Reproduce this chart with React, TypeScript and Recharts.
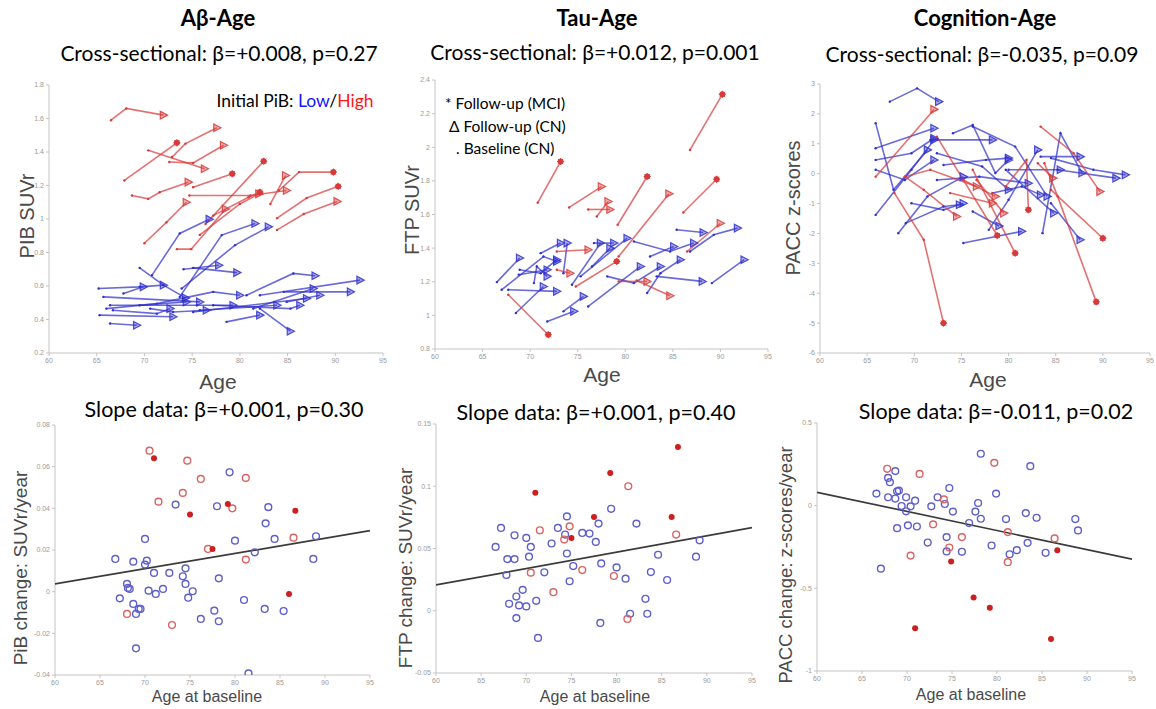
import React from "react";
import { LineChart, Line, XAxis, YAxis, ScatterChart, Scatter } from "recharts";

type Pt = [number, number];
type Traj = { end: "arrow" | "star"; pts: Pt[] };

// ---- longitudinal trajectories (age, value); end = marker of follow-up visit ----
const abHigh: Traj[] = [
  { end: "arrow", pts: [[66.5, 1.59], [68.1, 1.66], [72.0, 1.62]] },
  { end: "star", pts: [[67.9, 1.23], [73.4, 1.455]] },
  { end: "arrow", pts: [[68.7, 1.14], [70.4, 1.12], [71.6, 1.16], [74.6, 1.22]] },
  { end: "arrow", pts: [[70.4, 1.41], [76.3, 1.3]] },
  { end: "arrow", pts: [[72.9, 1.37], [74.3, 1.45], [77.6, 1.545]] },
  { end: "arrow", pts: [[72.6, 1.34], [75.1, 1.335], [78.3, 1.44]] },
  { end: "star", pts: [[75.1, 1.19], [79.2, 1.27]] },
  { end: "arrow", pts: [[74.7, 1.14], [81.1, 1.14], [84.9, 1.17]] },
  { end: "arrow", pts: [[70.0, 0.855], [72.3, 0.98], [74.4, 1.1]] },
  { end: "arrow", pts: [[73.4, 0.82], [74.9, 0.82], [78.5, 1.06]] },
  { end: "star", pts: [[76.4, 0.97], [82.5, 1.345]] },
  { end: "star", pts: [[77.2, 1.02], [80.9, 1.13], [82.1, 1.16]] },
  { end: "arrow", pts: [[75.8, 0.905], [80.0, 1.09], [82.0, 1.15]] },
  { end: "arrow", pts: [[83.2, 1.09], [84.8, 1.26]] },
  { end: "star", pts: [[84.1, 1.17], [86.2, 1.28], [89.8, 1.28]] },
  { end: "star", pts: [[83.9, 1.005], [87.0, 1.125], [90.3, 1.195]] },
  { end: "arrow", pts: [[83.9, 0.935], [86.7, 1.03], [90.2, 1.105]] },
];

const abLow: Traj[] = [
  { end: "arrow", pts: [[70.8, 0.665], [73.7, 0.914], [76.8, 0.999]] },
  { end: "arrow", pts: [[73.7, 0.535], [78.1, 0.904], [81.6, 0.973]] },
  { end: "arrow", pts: [[73.9, 0.585], [79.5, 0.844], [83.0, 0.953]] },
  { end: "arrow", pts: [[69.5, 0.708], [72.0, 0.605], [74.3, 0.529]] },
  { end: "arrow", pts: [[74.1, 0.7], [77.8, 0.724]] },
  { end: "arrow", pts: [[75.1, 0.708], [79.7, 0.68]] },
  { end: "arrow", pts: [[65.2, 0.585], [69.5, 0.595], [72.0, 0.605]] },
  { end: "arrow", pts: [[80.7, 0.545], [85.6, 0.675], [87.9, 0.661]] },
  { end: "arrow", pts: [[82.1, 0.545], [92.6, 0.635]] },
  { end: "arrow", pts: [[84.6, 0.565], [91.6, 0.565]] },
  { end: "arrow", pts: [[82.1, 0.465], [85.3, 0.33]] },
  { end: "arrow", pts: [[66.4, 0.376], [69.2, 0.366]] },
  { end: "arrow", pts: [[66.4, 0.485], [75.5, 0.485], [79.3, 0.485]] },
  { end: "arrow", pts: [[81.4, 0.465], [87.7, 0.585]] },
  { end: "arrow", pts: [[78.6, 0.386], [82.1, 0.426]] },
  { end: "arrow", pts: [[65.3, 0.426], [73.0, 0.416]] },
  { end: "arrow", pts: [[65.7, 0.535], [75.8, 0.505]] },
  { end: "arrow", pts: [[75.1, 0.445], [87.0, 0.525]] },
  { end: "arrow", pts: [[77.2, 0.485], [85.3, 0.465], [86.3, 0.485]] },
  { end: "arrow", pts: [[66.0, 0.465], [71.3, 0.495], [77.2, 0.565], [80.0, 0.545]] },
  { end: "arrow", pts: [[67.8, 0.555], [69.9, 0.595]] },
  { end: "arrow", pts: [[70.6, 0.465], [73.0, 0.445], [76.5, 0.455]] },
  { end: "arrow", pts: [[75.8, 0.455], [83.9, 0.485]] },
  { end: "arrow", pts: [[66.7, 0.455], [71.3, 0.435], [72.7, 0.465]] },
  { end: "arrow", pts: [[69.5, 0.485], [74.4, 0.505]] },
  { end: "arrow", pts: [[84.9, 0.505], [88.4, 0.545]] },
];

const tauHigh: Traj[] = [
  { end: "star", pts: [[70.8, 1.67], [73.2, 1.915]] },
  { end: "star", pts: [[86.8, 1.984], [90.2, 2.315]] },
  { end: "arrow", pts: [[74.1, 1.642], [77.5, 1.766]] },
  { end: "arrow", pts: [[76.1, 1.63], [78.4, 1.63]] },
  { end: "arrow", pts: [[77.0, 1.588], [78.2, 1.677]] },
  { end: "star", pts: [[79.2, 1.539], [82.3, 1.826]] },
  { end: "star", pts: [[86.1, 1.612], [89.6, 1.81]] },
  { end: "arrow", pts: [[72.8, 1.38], [76.1, 1.39]] },
  { end: "arrow", pts: [[79.3, 1.35], [84.6, 1.723]] },
  { end: "arrow", pts: [[86.5, 1.38], [90.0, 1.548]] },
  { end: "star", pts: [[67.7, 1.123], [71.9, 0.885]] },
  { end: "star", pts: [[74.8, 1.172], [79.1, 1.321]] },
  { end: "arrow", pts: [[79.3, 1.202], [82.3, 1.202]] },
  { end: "arrow", pts: [[81.2, 1.208], [84.7, 1.117]] },
  { end: "arrow", pts: [[72.8, 1.271], [74.2, 1.251]] },
];

const tauLow: Traj[] = [
  { end: "arrow", pts: [[66.5, 1.198], [68.9, 1.341]] },
  { end: "arrow", pts: [[67.0, 1.152], [71.4, 1.35], [72.8, 1.321]] },
  { end: "arrow", pts: [[67.7, 1.152], [72.8, 1.143]] },
  { end: "arrow", pts: [[68.5, 1.014], [71.4, 1.172]] },
  { end: "arrow", pts: [[71.8, 0.964], [74.6, 1.024]] },
  { end: "arrow", pts: [[73.5, 1.024], [75.6, 1.113]] },
  { end: "arrow", pts: [[76.1, 1.053], [81.6, 1.291]] },
  { end: "arrow", pts: [[74.4, 1.182], [77.4, 1.43]] },
  { end: "arrow", pts: [[75.3, 1.232], [80.2, 1.459]] },
  { end: "arrow", pts: [[76.5, 1.291], [78.4, 1.4]] },
  { end: "arrow", pts: [[73.5, 1.251], [73.9, 1.43]] },
  { end: "arrow", pts: [[68.9, 1.271], [71.1, 1.251], [72.8, 1.331]] },
  { end: "arrow", pts: [[70.4, 1.192], [70.7, 1.291], [71.8, 1.232]] },
  { end: "arrow", pts: [[78.1, 1.232], [80.9, 1.192], [83.7, 1.291]] },
  { end: "arrow", pts: [[82.3, 1.133], [83.7, 1.251], [85.8, 1.331]] },
  { end: "arrow", pts: [[83.3, 1.232], [88.1, 1.202]] },
  { end: "arrow", pts: [[80.9, 1.44], [84.7, 1.38], [87.2, 1.43]] },
  { end: "arrow", pts: [[85.4, 1.509], [88.2, 1.493]] },
  { end: "arrow", pts: [[86.8, 1.38], [89.3, 1.479], [91.8, 1.519]] },
  { end: "arrow", pts: [[89.1, 1.192], [92.5, 1.331]] },
  { end: "arrow", pts: [[76.7, 1.43], [78.8, 1.43]] },
  { end: "arrow", pts: [[71.1, 1.37], [73.2, 1.43]] },
  { end: "arrow", pts: [[82.6, 1.35], [85.1, 1.41]] },
  { end: "arrow", pts: [[68.8, 1.242], [71.8, 1.271]] },
];

const cogHigh: Traj[] = [
  { end: "arrow", pts: [[65.9, -0.1], [72.1, 2.15]] },
  { end: "star", pts: [[67.9, -0.65], [71.0, -2.21], [73.1, -5.0]] },
  { end: "star", pts: [[72.4, 1.24], [75.2, -0.21], [78.8, -2.07]] },
  { end: "star", pts: [[76.2, 0.13], [80.7, -2.66]] },
  { end: "arrow", pts: [[69.0, -0.1], [71.0, -0.54], [74.5, -1.43]] },
  { end: "arrow", pts: [[83.4, 1.575], [86.9, 0.684], [89.7, -0.6]] },
  { end: "star", pts: [[83.8, 0.35], [85.2, -0.76], [89.3, -4.29]] },
  { end: "star", pts: [[84.5, -0.54], [90.0, -2.16]] },
  { end: "arrow", pts: [[76.6, -0.21], [79.5, -1.32]] },
  { end: "star", pts: [[79.7, -0.43], [81.9, 0.46], [82.1, -1.21]] },
  { end: "arrow", pts: [[83.1, 0.35], [84.7, -0.15]] },
  { end: "arrow", pts: [[69.0, -0.1], [71.7, 0.13], [76.6, -0.43]] },
  { end: "arrow", pts: [[75.2, -0.21], [78.6, -0.76]] },
  { end: "arrow", pts: [[73.8, -0.65], [78.3, -0.99]] },
];

const cogLow: Traj[] = [
  { end: "arrow", pts: [[67.4, 2.41], [70.3, 2.855], [72.6, 2.41]] },
  { end: "arrow", pts: [[65.9, 1.69], [67.8, -0.54], [71.4, 0.795]] },
  { end: "arrow", pts: [[65.9, 0.85], [72.1, 1.52]] },
  { end: "arrow", pts: [[65.9, 0.46], [69.7, 0.684], [72.1, 1.185]] },
  { end: "arrow", pts: [[65.9, -1.38], [69.7, 0.13], [72.1, 1.13]] },
  { end: "arrow", pts: [[68.3, -1.99], [71.4, -0.76], [75.2, -0.1]] },
  { end: "arrow", pts: [[69.1, -1.655], [73.1, -1.1], [74.8, -1.04]] },
  { end: "arrow", pts: [[71.7, 1.13], [78.3, 1.13]] },
  { end: "arrow", pts: [[74.1, 1.35], [76.2, 1.63], [78.6, 0.02], [80.0, 0.46]] },
  { end: "arrow", pts: [[75.2, -2.32], [81.4, -1.93]] },
  { end: "arrow", pts: [[76.2, -1.265], [79.0, -1.75]] },
  { end: "arrow", pts: [[77.9, -1.88], [80.0, -0.875], [83.1, 0.795]] },
  { end: "arrow", pts: [[83.6, -1.99], [85.5, 1.35], [87.8, 0.02]] },
  { end: "arrow", pts: [[84.5, 0.52], [89.0, 0.13], [92.4, -0.04]] },
  { end: "arrow", pts: [[85.2, 0.13], [91.4, -0.15]] },
  { end: "arrow", pts: [[83.4, 0.57], [87.6, 0.57]] },
  { end: "arrow", pts: [[84.5, -0.99], [87.6, -2.21]] },
  { end: "arrow", pts: [[80.0, 0.13], [85.5, 0.13]] },
  { end: "arrow", pts: [[73.1, 0.29], [77.6, 0.46], [80.0, 0.52]] },
  { end: "arrow", pts: [[72.4, -0.21], [76.9, -0.1], [82.1, -0.32]] },
  { end: "arrow", pts: [[76.2, 1.575], [80.7, 0.906], [84.1, -0.76]] },
  { end: "arrow", pts: [[79.7, 0.13], [84.8, -1.32]] },
  { end: "arrow", pts: [[65.9, 0.13], [69.0, -0.21], [72.1, 0.46]] },
  { end: "arrow", pts: [[69.7, -0.99], [73.1, -1.21], [75.2, -0.99]] },
  { end: "arrow", pts: [[72.4, 0.684], [77.2, 0.24], [80.0, -0.54]] },
  { end: "arrow", pts: [[78.3, -0.65], [81.4, -0.43], [83.4, -0.71]] },
];

// ---- slope data (age at baseline, change per year) ----
const pibSlopeLow: Pt[] = [
  [79.4, 0.0573], [73.4, 0.0418], [78.0, 0.041], [83.7, 0.0406], [83.4, 0.0328], [70.0, 0.0253],
  [80.0, 0.0245], [84.4, 0.0253], [89.0, 0.0266], [82.2, 0.0189], [88.7, 0.0157], [66.7, 0.0157],
  [68.7, 0.0144], [70.2, 0.0149], [70.0, 0.013], [71.0, 0.009], [72.7, 0.009], [74.5, 0.0112],
  [74.2, 0.0074], [74.5, 0.0037], [78.2, 0.0064], [68.0, 0.0037], [68.1, 0.0018], [68.3, 0.0013],
  [67.2, -0.0032], [70.4, 0.0005], [71.2, -0.0011], [72.0, 0.0013], [75.3, 0.0002], [74.8, -0.0029],
  [68.7, -0.0059], [69.0, -0.0107], [69.3, -0.0083], [69.5, -0.0083], [77.7, -0.0091], [76.2, -0.0131],
  [78.2, -0.0142], [81.0, -0.004], [83.3, -0.0083], [85.4, -0.0093], [69.0, -0.0272], [81.5, -0.0392],
];
const pibSlopeHigh: Pt[] = [
  [70.5, 0.0677], [74.7, 0.0629], [76.2, 0.0541], [81.2, 0.0546], [74.2, 0.0474], [71.5, 0.0432],
  [79.7, 0.04], [77.0, 0.0205], [81.2, 0.0154], [86.5, 0.0259], [68.0, -0.0107], [73.0, -0.016],
];
const pibSlopeMci: Pt[] = [
  [71.0, 0.064], [75.0, 0.0371], [79.2, 0.0421], [86.7, 0.0389], [77.5, 0.0205], [86.0, -0.0011],
];
const pibFit: Pt[] = [[60, 0.0037], [95, 0.0293]];

const ftpSlopeLow: Pt[] = [
  [67.2, 0.0665], [68.7, 0.0606], [70.0, 0.0585], [70.5, 0.0513], [66.6, 0.0513], [67.9, 0.0415],
  [68.7, 0.0415], [70.3, 0.0434], [67.8, 0.0287], [72.0, 0.0309], [72.8, 0.054], [73.5, 0.0665],
  [74.5, 0.0758], [74.3, 0.0612], [74.5, 0.046], [75.2, 0.0359], [74.8, 0.0237], [76.2, 0.0625],
  [77.0, 0.062], [78.0, 0.07], [77.7, 0.0553], [78.3, 0.038], [80.0, 0.0348], [79.4, 0.0819],
  [82.2, 0.07], [81.0, 0.0258], [83.8, 0.0311], [84.6, 0.045], [85.6, 0.0247], [88.8, 0.0434],
  [89.2, 0.0566], [69.6, 0.0168], [68.9, 0.0114], [68.1, 0.0056], [69.2, 0.0043], [70.0, 0.0035],
  [71.1, 0.008], [68.9, -0.0059], [71.3, -0.0218], [78.2, -0.0098], [81.5, -0.0024], [83.2, 0.0096],
  [83.4, -0.0024],
];
const ftpSlopeHigh: Pt[] = [
  [81.3, 0.1], [71.5, 0.0646], [74.8, 0.0678], [74.2, 0.0572], [86.6, 0.0612], [70.5, 0.0306],
  [76.2, 0.0327], [79.7, 0.0279], [73.0, 0.0149], [81.2, -0.0066],
];
const ftpSlopeMci: Pt[] = [
  [71.0, 0.0947], [79.3, 0.1106], [86.8, 0.1316], [77.5, 0.0753], [86.1, 0.0753], [75.0, 0.0585],
];
const ftpFit: Pt[] = [[60, 0.0207], [95, 0.0668]];

const paccSlopeLow: Pt[] = [
  [78.2, 0.314], [83.7, 0.239], [68.7, 0.209], [67.9, 0.168], [68.1, 0.142], [66.6, 0.073],
  [68.9, 0.087], [69.1, 0.091], [67.9, 0.051], [68.7, 0.043], [69.9, 0.051], [70.9, 0.03],
  [69.4, -0.002], [70.4, -0.004], [69.9, -0.034], [72.7, -0.004], [73.4, 0.051], [74.2, 0.01],
  [74.7, 0.107], [75.1, -0.036], [77.9, 0.016], [77.6, -0.036], [78.2, -0.079], [79.9, 0.073],
  [76.9, -0.105], [81.0, -0.081], [83.2, -0.045], [84.4, -0.073], [88.7, -0.081], [89.0, -0.15],
  [68.9, -0.136], [70.1, -0.119], [71.1, -0.126], [72.3, -0.223], [74.4, -0.19], [74.4, -0.277],
  [76.1, -0.279], [79.4, -0.241], [81.4, -0.294], [82.2, -0.269], [83.4, -0.225], [85.4, -0.285],
  [67.1, -0.381],
];
const paccSlopeHigh: Pt[] = [
  [67.8, 0.223], [71.4, 0.192], [79.7, 0.259], [74.1, 0.038], [72.9, -0.113], [76.1, -0.19],
  [81.2, -0.16], [86.4, -0.198], [70.4, -0.302], [74.7, -0.253], [81.2, -0.342],
];
const paccSlopeMci: Pt[] = [
  [74.9, -0.338], [86.7, -0.269], [77.4, -0.555], [79.2, -0.617], [70.9, -0.741], [86.0, -0.806],
];
const paccFit: Pt[] = [[60, 0.081], [95, -0.324]];

// ---- ticks ----
const ageTicks = [60, 65, 70, 75, 80, 85, 90, 95];
const pibTicks = [0.2, 0.4, 0.6, 0.8, 1, 1.2, 1.4, 1.6, 1.8];
const ftpTicks = [0.8, 1, 1.2, 1.4, 1.6, 1.8, 2, 2.2, 2.4];
const paccTicks = [-6, -5, -4, -3, -2, -1, 0, 1, 2, 3];
const pibSlopeTicks = [-0.04, -0.02, 0, 0.02, 0.04, 0.06, 0.08];
const ftpSlopeTicks = [-0.05, 0, 0.05, 0.1, 0.15];
const paccSlopeTicks = [-1, -0.5, 0, 0.5];

const BLUE = "#3030cc";
const RED = "#d83a3a";
const RING_BLUE = "#5f5fcc";
const RING_RED = "#d86464";
const DOT_RED = "#cc1f1f";
const AXIS = "#c4c4c4";
const TICK_TXT = { fontSize: 7, fill: "#9a9a9a", fontFamily: "'Liberation Sans', Arial, sans-serif" };
const TITLE_FONT = "Lato, 'Open Sans', sans-serif";
const LABEL_FONT = "'Liberation Sans', Arial, sans-serif";

const rows = (pts: Pt[]) => pts.map(([age, v]) => ({ age, v }));
const fmt = (v: number) => String(+v.toFixed(2));

const endDot = (color: string, n: number, end: string) => (p: any) => {
  const { cx, cy, index } = p;
  if (cx == null || cy == null) return <g key={`d${index}`} />;
  if (index < n - 1) return <circle key={`d${index}`} cx={cx} cy={cy} r={1.2} fill={color} />;
  if (end === "star") {
    return (
      <g key={`d${index}`} stroke={color} strokeWidth={1}>
        <circle cx={cx} cy={cy} r={2.6} fill={color} />
        <path d={`M${cx - 3.5},${cy} H${cx + 3.5} M${cx},${cy - 3.5} V${cy + 3.5} M${cx - 2.5},${cy - 2.5} L${cx + 2.5},${cy + 2.5} M${cx - 2.5},${cy + 2.5} L${cx + 2.5},${cy - 2.5}`} />
      </g>
    );
  }
  return (
    <polygon
      key={`d${index}`}
      points={`${cx + 4},${cy} ${cx - 3.2},${cy - 3.8} ${cx - 3.2},${cy + 3.8}`}
      fill={color}
      fillOpacity={0.4}
      stroke={color}
      strokeOpacity={0.85}
      strokeWidth={1.2}
    />
  );
};

type PanelBox = { left: number; top: number; width: number; height: number; yw: number; xh: number; mr: number };

function TrajPanel({ box, yDomain, yTicks, low, high }: { box: PanelBox; yDomain: number[]; yTicks: number[]; low: Traj[]; high: Traj[] }) {
  const series = [
    ...low.map((t) => ({ t, color: BLUE })),
    ...high.map((t) => ({ t, color: RED })),
  ];
  return (
    <div style={{ position: "absolute", left: box.left, top: box.top }}>
      <LineChart width={box.width} height={box.height} margin={{ top: 10, right: box.mr, left: 0, bottom: 0 }}>
        <XAxis xAxisId="b" type="number" dataKey="age" domain={[60, 95]} ticks={ageTicks} allowDataOverflow
          height={box.xh} tick={TICK_TXT} tickSize={3} stroke={AXIS} />
        <XAxis xAxisId="t" orientation="top" type="number" dataKey="age" domain={[60, 95]} ticks={ageTicks}
          height={0} tick={false} stroke={AXIS} />
        <YAxis yAxisId="l" type="number" domain={yDomain} ticks={yTicks} allowDataOverflow width={box.yw}
          tick={TICK_TXT} tickSize={3} stroke={AXIS} tickFormatter={fmt} />
        <YAxis yAxisId="r" orientation="right" type="number" domain={yDomain} ticks={yTicks} width={0}
          tick={false} stroke={AXIS} />
        {series.map(({ t, color }, i) => (
          <Line
            key={i}
            xAxisId="b"
            yAxisId="l"
            data={rows(t.pts)}
            dataKey="v"
            type="linear"
            stroke={color}
            strokeOpacity={0.72}
            strokeWidth={1.6}
            dot={endDot(color, t.pts.length, t.end)}
            activeDot={false}
            isAnimationActive={false}
          />
        ))}
      </LineChart>
    </div>
  );
}

const ring = (color: string) => (p: any) => (
  <circle cx={p.cx} cy={p.cy} r={3.4} fill="none" stroke={color} strokeWidth={1.4} />
);
const filled = (p: any) => <circle cx={p.cx} cy={p.cy} r={3} fill={DOT_RED} />;
const noShape = () => <g />;

function SlopePanel({ box, yDomain, yTicks, low, high, mci, fit }: { box: PanelBox; yDomain: number[]; yTicks: number[]; low: Pt[]; high: Pt[]; mci: Pt[]; fit: Pt[] }) {
  return (
    <div style={{ position: "absolute", left: box.left, top: box.top }}>
      <ScatterChart width={box.width} height={box.height} margin={{ top: 10, right: box.mr, left: 0, bottom: 0 }}>
        <XAxis type="number" dataKey="age" domain={[60, 95]} ticks={ageTicks} allowDataOverflow
          height={box.xh} tick={TICK_TXT} tickSize={3} stroke={AXIS} />
        <YAxis type="number" dataKey="v" domain={yDomain} ticks={yTicks} allowDataOverflow width={box.yw}
          tick={TICK_TXT} tickSize={3} stroke={AXIS} tickFormatter={fmt} />
        <Scatter data={rows(fit)} line={{ stroke: "#3a3a3a", strokeWidth: 1.7 }} shape={noShape} isAnimationActive={false} />
        <Scatter data={rows(low)} shape={ring(RING_BLUE)} isAnimationActive={false} />
        <Scatter data={rows(high)} shape={ring(RING_RED)} isAnimationActive={false} />
        <Scatter data={rows(mci)} shape={filled} isAnimationActive={false} />
      </ScatterChart>
    </div>
  );
}

function Txt({ x, y, size, bold, font, color, rotate, children }: any) {
  return (
    <div
      style={{
        position: "absolute",
        left: x,
        top: y,
        transform: `translate(-50%, -50%)${rotate ? " rotate(-90deg)" : ""}`,
        whiteSpace: "nowrap",
        fontSize: size,
        fontWeight: bold ? 700 : 400,
        fontFamily: font,
        color: color || "#000",
        lineHeight: 1,
      }}
    >
      {children}
    </div>
  );
}

export default function App() {
  const lab = "#4a4a4a";
  return (
    <div style={{ position: "absolute", left: 0, top: 0, width: 1156, height: 709, overflow: "hidden", background: "#fff" }}>
      <TrajPanel box={{ left: 0, top: 75, width: 395, height: 300, yw: 49, xh: 22, mr: 12 }} yDomain={[0.2, 1.8]} yTicks={pibTicks} low={abLow} high={abHigh} />
      <TrajPanel box={{ left: 390, top: 70, width: 390, height: 300, yw: 45, xh: 21, mr: 12 }} yDomain={[0.8, 2.4]} yTicks={ftpTicks} low={tauLow} high={tauHigh} />
      <TrajPanel box={{ left: 780, top: 74, width: 380, height: 300, yw: 40, xh: 21, mr: 10 }} yDomain={[-6, 3]} yTicks={paccTicks} low={cogLow} high={cogHigh} />

      <SlopePanel box={{ left: 0, top: 415, width: 385, height: 285, yw: 55, xh: 25, mr: 15 }} yDomain={[-0.04, 0.08]} yTicks={pibSlopeTicks} low={pibSlopeLow} high={pibSlopeHigh} mci={pibSlopeMci} fit={pibFit} />
      <SlopePanel box={{ left: 390, top: 414, width: 375, height: 285, yw: 46, xh: 26, mr: 13 }} yDomain={[-0.05, 0.15]} yTicks={ftpSlopeTicks} low={ftpSlopeLow} high={ftpSlopeHigh} mci={ftpSlopeMci} fit={ftpFit} />
      <SlopePanel box={{ left: 775, top: 413, width: 375, height: 285, yw: 42, xh: 27, mr: 18 }} yDomain={[-1, 0.5]} yTicks={paccSlopeTicks} low={paccSlopeLow} high={paccSlopeHigh} mci={paccSlopeMci} fit={paccFit} />

      {/* column titles */}
      <Txt x={218} y={18} size={22} bold font={TITLE_FONT}>Aβ-Age</Txt>
      <Txt x={597} y={18} size={22} bold font={TITLE_FONT}>Tau-Age</Txt>
      <Txt x={985} y={18} size={22} bold font={TITLE_FONT}>Cognition-Age</Txt>
      <Txt x={219} y={52} size={21} font={TITLE_FONT}>Cross-sectional: β=+0.008, p=0.27</Txt>
      <Txt x={595} y={51} size={21} font={TITLE_FONT}>Cross-sectional: β=+0.012, p=0.001</Txt>
      <Txt x={982} y={53} size={21} font={TITLE_FONT}>Cross-sectional: β=-0.035, p=0.09</Txt>
      <Txt x={224} y={410} size={21.5} font={TITLE_FONT}>Slope data: β=+0.001, p=0.30</Txt>
      <Txt x={596} y={413} size={21.5} font={TITLE_FONT}>Slope data: β=+0.001, p=0.40</Txt>
      <Txt x={996} y={412} size={21.5} font={TITLE_FONT}>Slope data: β=-0.011, p=0.02</Txt>

      {/* legends */}
      <Txt x={295} y={101} size={17.5} font={TITLE_FONT}>
        Initial PiB: <span style={{ color: "#1515ff" }}>Low</span>/<span style={{ color: "#ff1515" }}>High</span>
      </Txt>
      <div style={{ position: "absolute", left: 445, top: 92, fontFamily: TITLE_FONT, fontSize: 15.5, lineHeight: "22.5px", whiteSpace: "nowrap" }}>
        <div>* Follow-up (MCI)</div>
        <div style={{ paddingLeft: 4 }}>Δ Follow-up (CN)</div>
        <div style={{ paddingLeft: 11 }}>. Baseline (CN)</div>
      </div>

      {/* axis titles */}
      <Txt x={218} y={381} size={21} font={LABEL_FONT} color={lab}>Age</Txt>
      <Txt x={602} y={374} size={21} font={LABEL_FONT} color={lab}>Age</Txt>
      <Txt x={988} y={379} size={21} font={LABEL_FONT} color={lab}>Age</Txt>
      <Txt x={27} y={216} size={20} font={LABEL_FONT} color={lab} rotate>PIB SUVr</Txt>
      <Txt x={412} y={210} size={20} font={LABEL_FONT} color={lab} rotate>FTP SUVr</Txt>
      <Txt x={793} y={208} size={20} font={LABEL_FONT} color={lab} rotate>PACC z-scores</Txt>
      <Txt x={20} y={568} size={19} font={LABEL_FONT} color={lab} rotate>PiB change: SUVr/year</Txt>
      <Txt x={405} y={568} size={19} font={LABEL_FONT} color={lab} rotate>FTP change: SUVr/year</Txt>
      <Txt x={786} y={565} size={18.5} font={LABEL_FONT} color={lab} rotate>PACC change: z-scores/year</Txt>
      <Txt x={207} y={697} size={16} font={LABEL_FONT} color={lab}>Age at baseline</Txt>
      <Txt x={595} y={697} size={16} font={LABEL_FONT} color={lab}>Age at baseline</Txt>
      <Txt x={971} y={695} size={16} font={LABEL_FONT} color={lab}>Age at baseline</Txt>
    </div>
  );
}
